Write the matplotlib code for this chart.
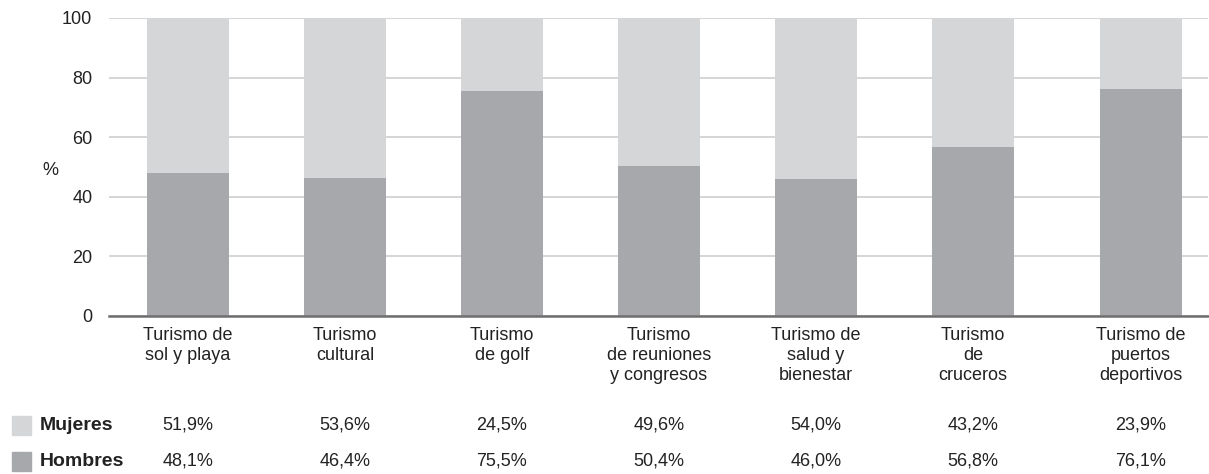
import numpy as np
import matplotlib.pyplot as plt
from matplotlib.patches import Rectangle

plt.rcParams['font.family'] = ['Liberation Sans', 'DejaVu Sans']

categories = ['Turismo de\nsol y playa', 'Turismo\ncultural', 'Turismo\nde golf',
              'Turismo\nde reuniones\ny congresos', 'Turismo de\nsalud y\nbienestar',
              'Turismo\nde\ncruceros', 'Turismo de\npuertos\ndeportivos']
hombres = [48.1, 46.4, 75.5, 50.4, 46.0, 56.8, 76.1]
mujeres = [51.9, 53.6, 24.5, 49.6, 54.0, 43.2, 23.9]
series_names = ['Mujeres', 'Hombres']
y_ticks = [0, 20, 40, 60, 80, 100]

col_mujeres = '#d5d6d8'
col_hombres = '#a7a8ab'
txt = '#222222'

W, H = 1209, 474
fig = plt.figure(figsize=(W / 100, H / 100), dpi=100)
ax = fig.add_axes([109 / W, 158 / H, 1099 / W, 298 / H])

# last column sits a little further right than the regular spacing
x = np.arange(len(categories), dtype=float)
x[-1] += 0.07
width = 0.52

ax.bar(x, hombres, width, color=col_hombres, zorder=2)
ax.bar(x, mujeres, width, bottom=hombres, color=col_mujeres, zorder=2)

ax.set_xlim(-0.503, 6.497)
ax.set_ylim(0, 100)
ax.set_yticks(y_ticks)
ax.yaxis.grid(True, color='#d2d2d2', linewidth=1.3, zorder=0)
ax.tick_params(axis='y', length=0, pad=12, labelsize=13, labelcolor=txt)
ax.tick_params(axis='x', length=0, pad=8, labelsize=13, labelcolor=txt)
ax.set_xticks(x)
ax.set_xticklabels(categories, linespacing=1.22, va='top')
for s in ['top', 'right', 'left']:
    ax.spines[s].set_visible(False)
ax.spines['bottom'].set_color('#6e6e6e')
ax.spines['bottom'].set_linewidth(1.8)
ax.spines['bottom'].set_zorder(3)

fig.text(50 / W, 1 - 171 / H, '%', fontsize=13, color=txt, ha='center', va='center')

# data table below the chart
rows = [(series_names[0], mujeres, col_mujeres, 425),
        (series_names[1], hombres, col_hombres, 461)]
for name, vals, col, ypix in rows:
    yf = 1 - ypix / H
    fig.patches.append(Rectangle((12 / W, yf - 10 / H), 19 / W, 19 / H,
                                 transform=fig.transFigure, color=col))
    fig.text(40 / W, yf, name, fontsize=14, fontweight='bold', color=txt,
             ha='left', va='center')
    for xi, v in zip(x, vals):
        xf = ax.transData.transform((xi, 0))[0] / W
        fig.text(xf, yf, f'{v:.1f}%'.replace('.', ','), fontsize=13, color=txt,
                 ha='center', va='center')

fig.savefig('out.png', dpi=100)
